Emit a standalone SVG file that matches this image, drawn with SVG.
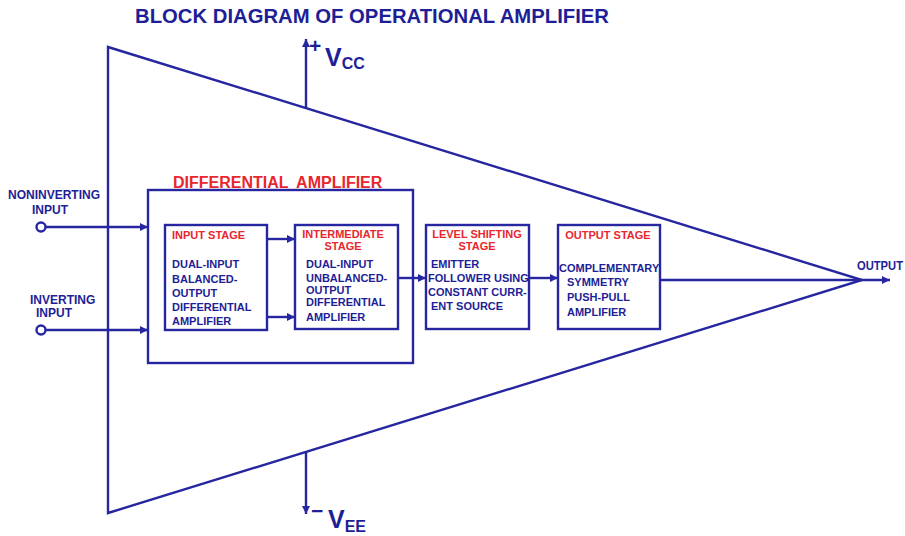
<svg xmlns="http://www.w3.org/2000/svg" width="905" height="536" viewBox="0 0 905 536">
<style>
.ln{fill:none;stroke:#2626a0;stroke-width:2.4}
.bx{fill:#fff;stroke:#2626a0;stroke-width:2.4}
.t{font-family:"Liberation Sans",Arial,sans-serif;font-weight:bold;fill:#1e1e96}
.r{font-family:"Liberation Sans",Arial,sans-serif;font-weight:bold;fill:#e8262e}
.s{font-size:11px}
</style>
<defs>
<marker id="ah" viewBox="0 0 10 10" refX="10" refY="5" markerWidth="9" markerHeight="8" markerUnits="userSpaceOnUse" orient="auto">
<path d="M0,0 L10,5 L0,10 Z" fill="#2626a0"/>
</marker>
</defs>
<rect width="905" height="536" fill="#fff"/>
<g id="title"><text class="t" x="135" y="23" font-size="20" textLength="474" lengthAdjust="spacingAndGlyphs">BLOCK DIAGRAM OF OPERATIONAL AMPLIFIER</text></g>
<g id="opamp"><path class="ln" d="M108,47 L862,280 L108,513 Z"/></g>
<g id="vcc"><text class="t" x="309" y="53" font-size="21">+</text><text class="t" x="325" y="66" font-size="25">V<tspan font-size="16" dy="3">CC</tspan></text></g>
<g id="vee"><text class="t" x="311" y="518" font-size="21">−</text><text class="t" x="328" y="528" font-size="25">V<tspan font-size="16" dy="4">EE</tspan></text></g>
<g id="noninv"><text class="t" x="8" y="199" font-size="12">NONINVERTING</text><text class="t" x="50" y="214" font-size="12" text-anchor="middle">INPUT</text><circle class="bx" cx="41" cy="227" r="4.5"/></g>
<g id="inv"><text class="t" x="30" y="304" font-size="12">INVERTING</text><text class="t" x="54" y="317" font-size="12" text-anchor="middle">INPUT</text><circle class="bx" cx="41" cy="330" r="4.5"/></g>
<g id="diffamp"><rect class="ln" x="148" y="190" width="265" height="173"/><text class="r" x="173" y="188" font-size="16" word-spacing="4">DIFFERENTIAL AMPLIFIER</text></g>
<g id="inputstage"><rect class="bx" x="165" y="225" width="102" height="105"/>
<text class="r s" x="172" y="239">INPUT STAGE</text>
<text class="t s" x="172" y="268">DUAL-INPUT</text>
<text class="t s" x="172" y="283">BALANCED-</text>
<text class="t s" x="172" y="297">OUTPUT</text>
<text class="t s" x="172" y="311">DIFFERENTIAL</text>
<text class="t s" x="172" y="325">AMPLIFIER</text></g>
<g id="intermediate"><rect class="bx" x="295" y="225" width="103" height="104"/>
<text class="r s" x="343" y="238" text-anchor="middle">INTERMEDIATE</text>
<text class="r s" x="343" y="250" text-anchor="middle">STAGE</text>
<text class="t s" x="306" y="268">DUAL-INPUT</text>
<text class="t s" x="306" y="282">UNBALANCED-</text>
<text class="t s" x="306" y="294">OUTPUT</text>
<text class="t s" x="306" y="306">DIFFERENTIAL</text>
<text class="t s" x="306" y="321">AMPLIFIER</text></g>
<g id="levelshift"><rect class="bx" x="426" y="225" width="103" height="104"/>
<text class="r s" x="477" y="238" text-anchor="middle">LEVEL SHIFTING</text>
<text class="r s" x="477" y="250" text-anchor="middle">STAGE</text>
<text class="t s" x="431" y="268">EMITTER</text>
<text class="t s" x="428" y="282">FOLLOWER USING</text>
<text class="t s" x="428" y="296">CONSTANT CURR-</text>
<text class="t s" x="431" y="310">ENT SOURCE</text></g>
<g id="outputstage"><rect class="bx" x="558" y="225" width="102" height="104"/>
<text class="r s" x="608" y="239" text-anchor="middle">OUTPUT STAGE</text>
<text class="t s" x="559" y="272">COMPLEMENTARY</text>
<text class="t s" x="567" y="286">SYMMETRY</text>
<text class="t s" x="567" y="301">PUSH-PULL</text>
<text class="t s" x="567" y="316">AMPLIFIER</text></g>
<g id="output"><text class="t" x="857" y="270" font-size="12" textLength="46" lengthAdjust="spacingAndGlyphs">OUTPUT</text></g>
<g id="connectors">
<line class="ln" x1="306" y1="108" x2="306" y2="39" marker-end="url(#ah)"/>
<line class="ln" x1="306" y1="452" x2="306" y2="514" marker-end="url(#ah)"/>
<line class="ln" x1="46" y1="227" x2="148" y2="227" marker-end="url(#ah)"/>
<line class="ln" x1="46" y1="330" x2="148" y2="330" marker-end="url(#ah)"/>
<line class="ln" x1="267" y1="239" x2="295" y2="239" marker-end="url(#ah)"/>
<line class="ln" x1="267" y1="317" x2="295" y2="317" marker-end="url(#ah)"/>
<line class="ln" x1="398" y1="278" x2="426" y2="278" marker-end="url(#ah)"/>
<line class="ln" x1="529" y1="278" x2="558" y2="278" marker-end="url(#ah)"/>
<line class="ln" x1="660" y1="280" x2="890" y2="280" marker-end="url(#ah)"/>
</g>
</svg>
